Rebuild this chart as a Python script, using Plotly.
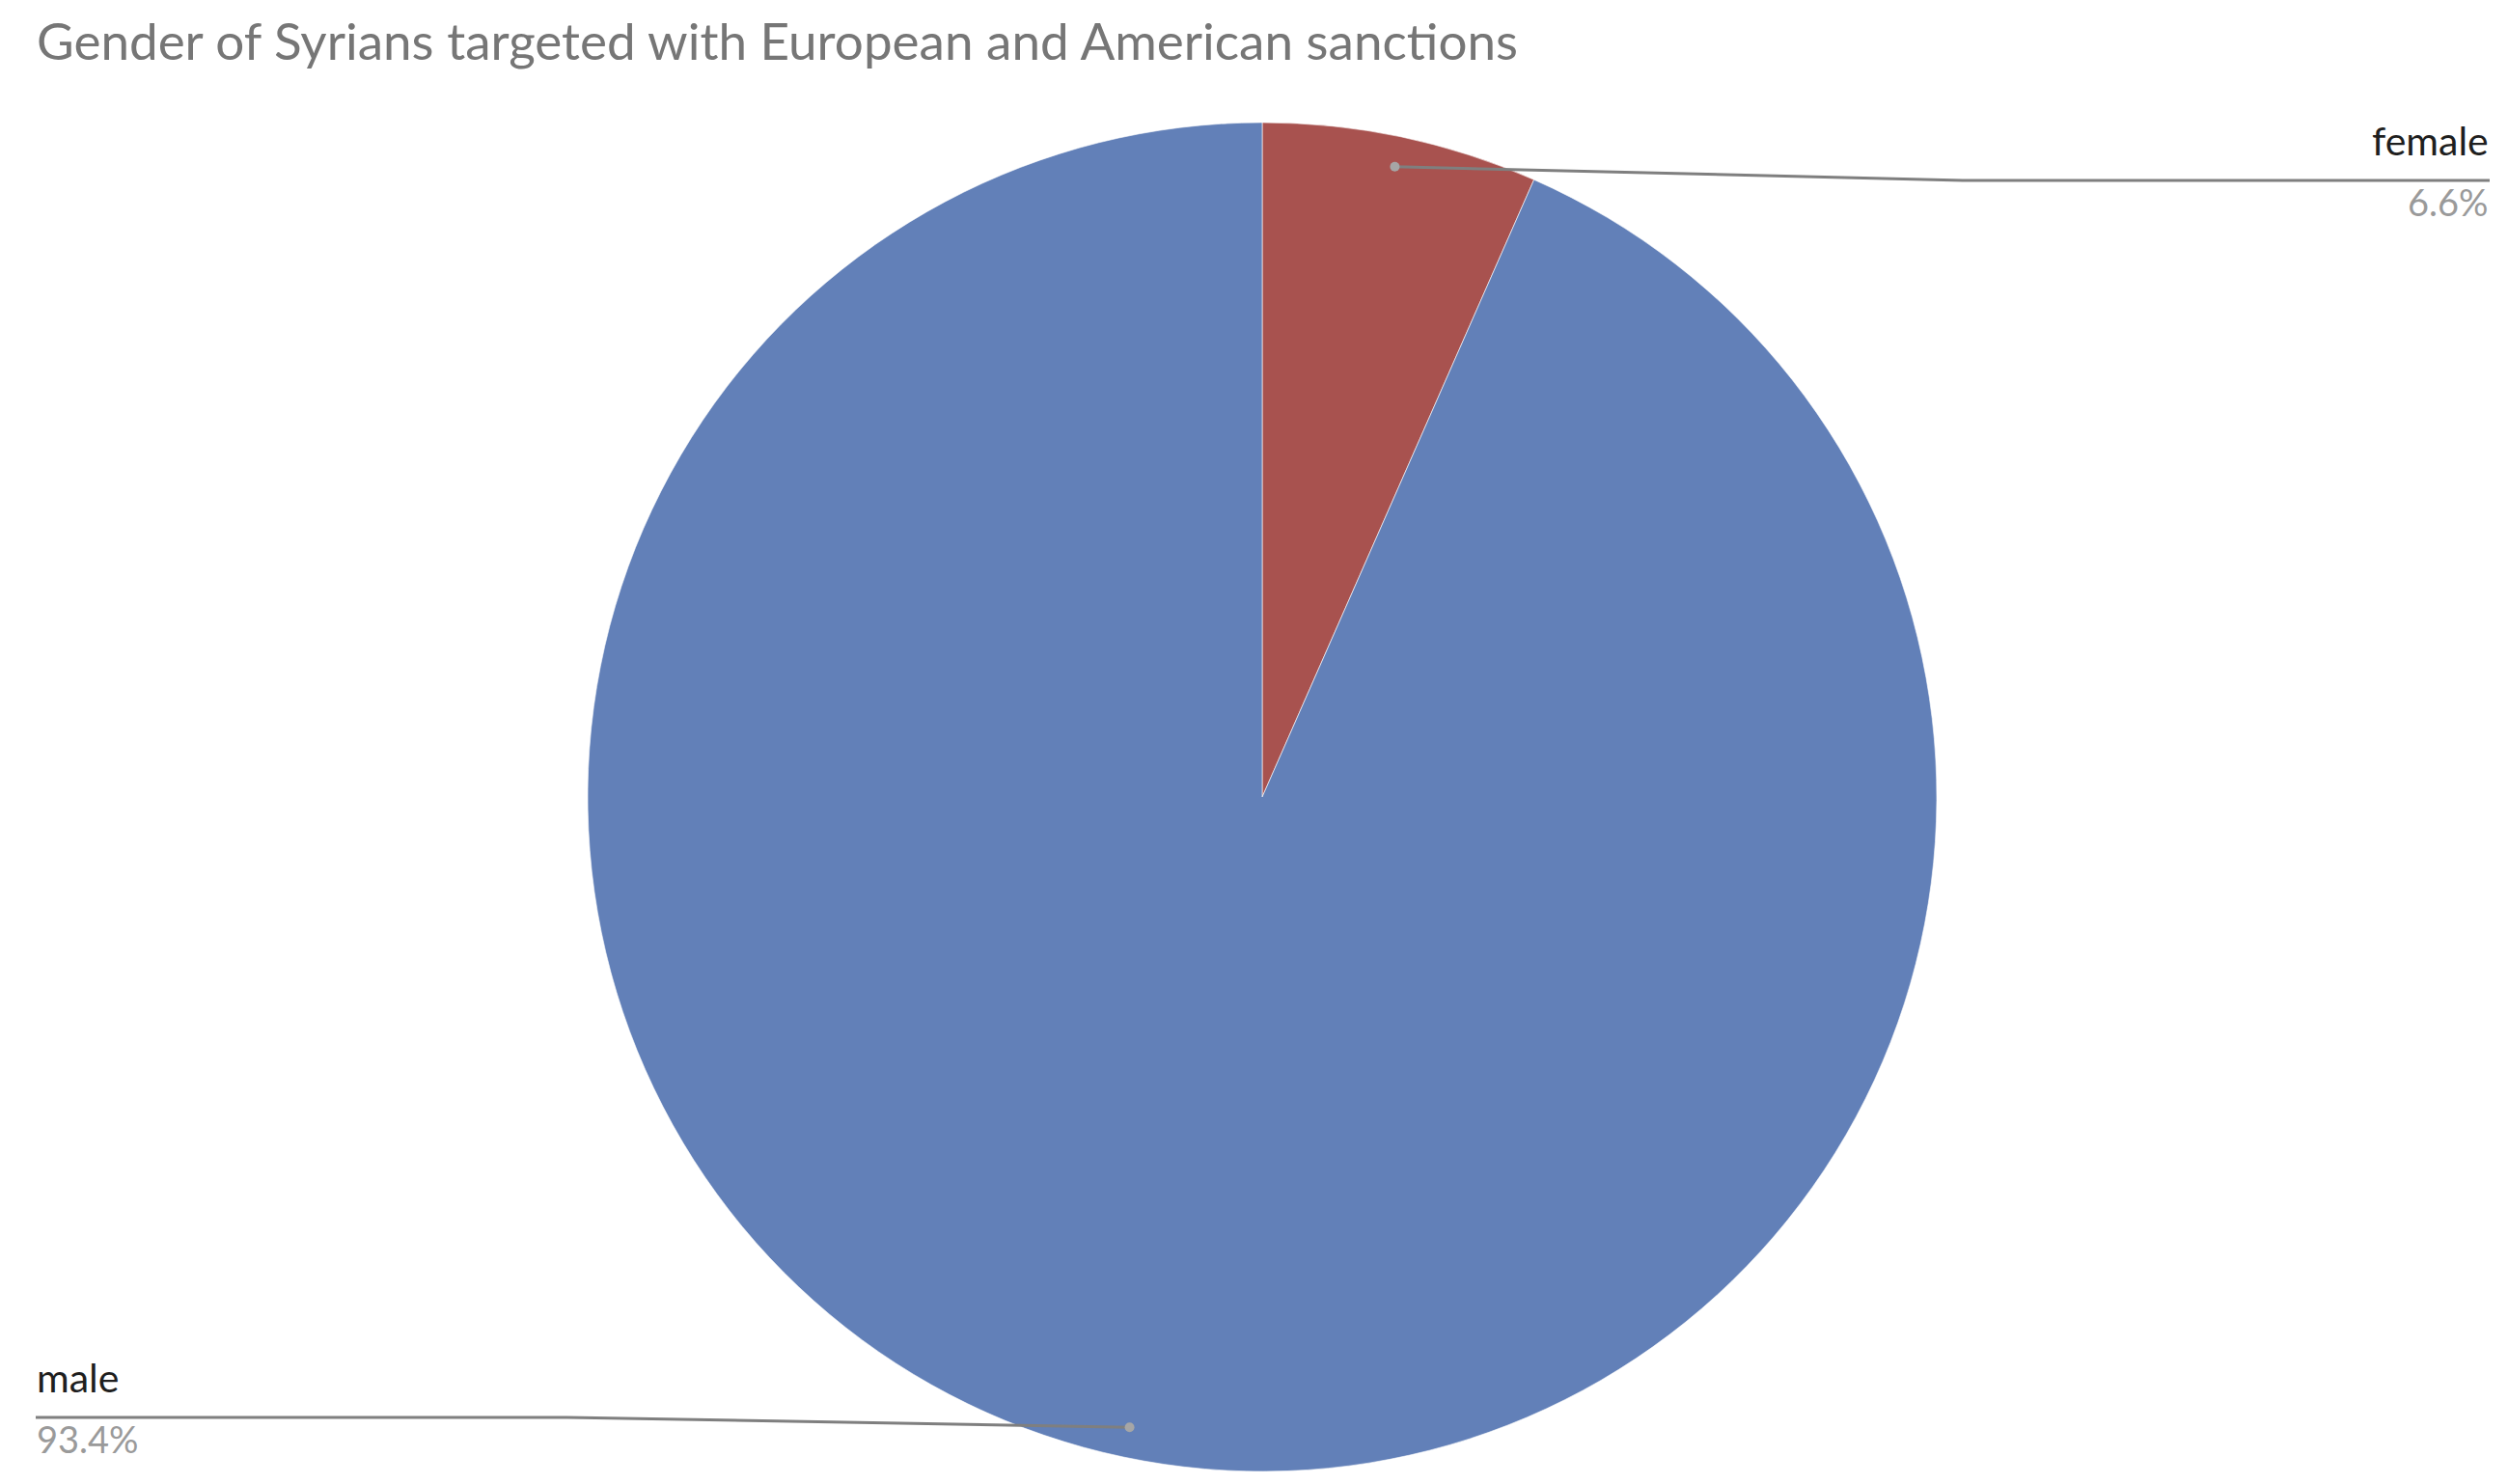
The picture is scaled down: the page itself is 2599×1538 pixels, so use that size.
import math
import plotly.graph_objects as go

# ---- data ----
labels = ["female", "male"]
values = [6.6, 93.4]
colors = ["#A8524F", "#6280B8"]
title_text = "Gender of Syrians targeted with European and American sanctions"

# ---- layout constants (pixels) ----
W, H = 2599, 1538
CX, CY, R = 1300, 818, 699
FONT = "Lato"


def px(x):
    return x / W


def py(y):
    return 1 - y / H


fig = go.Figure()
fig.add_trace(go.Pie(
    labels=labels,
    values=values,
    sort=False,
    direction="clockwise",
    rotation=0,
    textinfo="none",
    hoverinfo="label+percent",
    marker=dict(colors=colors, line=dict(color="rgba(255,255,255,0.6)", width=1)),
    domain=dict(x=[px(CX - R), px(CX + R)], y=[py(CY + R), py(CY - R)]),
    showlegend=False,
))

# leader lines computed from slice mid-angles
total = sum(values)
cum = 0.0
shapes = []
annotations = []
label_specs = {
    # name: (elbow_x, line_y, end_x, side)
    "female": (2027, 179, 2572, "right"),
    "male": (580, 1461, 29, "left"),
}
for lab, val in zip(labels, values):
    mid = (cum + val / 2) / total * 2 * math.pi
    cum += val
    dx = CX + 0.955 * R * math.sin(mid)
    dy = CY - 0.955 * R * math.cos(mid)
    ex, ly, endx, side = label_specs[lab]
    pts = [(dx, dy), (ex, ly), (endx, ly)]
    path = "M {} {} L {} {} L {} {}".format(
        px(pts[0][0]), py(pts[0][1]), px(pts[1][0]), py(pts[1][1]), px(pts[2][0]), py(pts[2][1]))
    shapes.append(dict(type="path", xref="paper", yref="paper", path=path,
                       line=dict(color="#7F7F7F", width=3)))
    rr = 5
    shapes.append(dict(type="circle", xref="paper", yref="paper",
                       x0=px(dx - rr), x1=px(dx + rr), y0=py(dy + rr), y1=py(dy - rr),
                       fillcolor="#A6A6A6", line=dict(width=0)))
    anchor = "right" if side == "right" else "left"
    annotations.append(dict(
        x=px(endx), y=py(ly - 16), xref="paper", yref="paper", xanchor=anchor, yanchor="bottom",
        text=lab, showarrow=False, align=anchor, borderpad=0,
        font=dict(family=FONT, size=41, color="#1F1F1F")))
    annotations.append(dict(
        x=px(endx), y=py(ly - 2), xref="paper", yref="paper", xanchor=anchor, yanchor="top",
        text=f"{val / total * 100:.1f}%", showarrow=False, align=anchor, borderpad=0,
        font=dict(family=FONT, size=38, color="#9A9A9A")))

# title as a paper annotation for precise placement
annotations.append(dict(
    x=px(29), y=py(1), xref="paper", yref="paper", xanchor="left", yanchor="top",
    text=title_text, showarrow=False, borderpad=0,
    font=dict(family=FONT, size=53, color="#767676")))

fig.update_layout(
    width=W, height=H, autosize=False,
    margin=dict(l=0, r=0, t=0, b=0),
    paper_bgcolor="white", plot_bgcolor="white",
    shapes=shapes,
    annotations=annotations,
)

fig.write_html("out.html")
